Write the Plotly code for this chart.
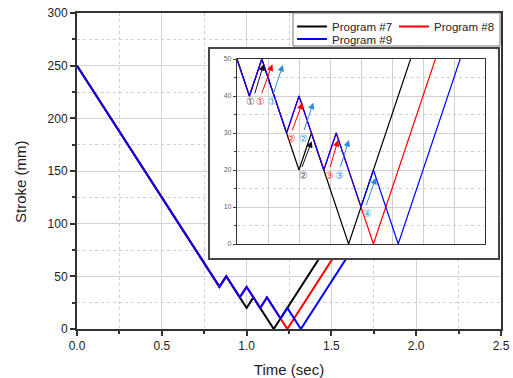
import plotly.graph_objects as go

# ---------------- data ----------------
series_names = ["Program #7", "Program #8", "Program #9"]
series_colors = ["#000000", "#ff0000", "#0000ff"]
series_legend = ["legend", "legend", "legend2"]

t7 = [0, 0.84, 0.88, 1.00, 1.04, 1.16, 1.56]
s7 = [250, 40, 50, 20, 30, 0, 100]
t8 = [0, 0.84, 0.88, 0.96, 1.00, 1.08, 1.12, 1.24, 1.64]
s8 = [250, 40, 50, 30, 40, 20, 30, 0, 100]
t9 = [0, 0.84, 0.88, 0.96, 1.00, 1.08, 1.12, 1.20, 1.24, 1.32, 1.72]
s9 = [250, 40, 50, 30, 40, 20, 30, 10, 20, 0, 100]

times = [t7, t8, t9]
strokes = [s7, s8, s9]

x_title = "Time (sec)"
y_title = "Stroke (mm)"

# circled step labels in the inset (text, time, stroke, series index)
label_text = ["①", "①", "①", "②", "②", "②", "③", "③", "④"]
label_t = [0.843, 0.877, 0.914, 0.977, 1.013, 1.013, 1.097, 1.132, 1.221]
label_s = [38.5, 38.5, 38.5, 28.6, 28.6, 18.6, 18.6, 18.6, 8.3]
label_series = [0, 1, 2, 1, 2, 0, 1, 2, 2]

# arrows in the inset: tail (t, s) -> head (t, s)
arrow_tail_t = [0.856, 0.878, 0.916, 0.977, 1.015, 1.008, 1.099, 1.132, 1.215]
arrow_tail_s = [40.3, 40.3, 40.3, 30.4, 30.4, 20.4, 20.4, 20.4, 10.1]
arrow_head_t = [0.886, 0.914, 0.948, 1.011, 1.046, 1.041, 1.126, 1.161, 1.248]
arrow_head_s = [48.6, 48.6, 48.4, 38.2, 38.2, 27.8, 28.1, 28.1, 17.9]
arrow_series = [0, 1, 2, 1, 2, 0, 1, 2, 2]

label_colors = ["#555555", "#ff3030", "#3399dd"]
arrow_colors = ["#111111", "#ff0000", "#2b8cd6"]

FONT = "Arial, Liberation Sans, sans-serif"

fig = go.Figure()

# main traces
for name, col, t, s, lg in zip(series_names, series_colors, times, strokes, series_legend):
    fig.add_trace(go.Scatter(x=t, y=s, mode="lines", name=name, legend=lg,
                             line=dict(color=col, width=2),
                             xaxis="x", yaxis="y", hoverinfo="skip"))

# dummy trace for the inset frame subplot
fig.add_trace(go.Scatter(x=[], y=[], xaxis="x2", yaxis="y2", showlegend=False,
                         hoverinfo="skip"))

# inset traces
for name, col, t, s in zip(series_names, series_colors, times, strokes):
    fig.add_trace(go.Scatter(x=t, y=s, mode="lines", name=name, showlegend=False,
                             line=dict(color=col, width=1.2),
                             xaxis="x3", yaxis="y3", hoverinfo="skip"))

L, R, T, B = 77, 12, 13, 49
W, H = 513, 378
pw, ph = W - L - R, H - T - B


def dx(px):
    return (px - L) / pw


def dy(py):
    return (H - B - py) / ph


axis_common = dict(showline=True, mirror=True, linecolor="#333333", linewidth=2,
                   ticks="outside", ticklen=5, tickwidth=1.5, tickcolor="#333333",
                   zeroline=False, showgrid=True, gridcolor="#d4d4d4", gridwidth=1,
                   tickfont=dict(family=FONT, size=12, color="#222222"))

legend_common = dict(orientation="h", xanchor="left", yanchor="top",
                     bgcolor="rgba(0,0,0,0)", borderwidth=0,
                     entrywidth=57, entrywidthmode="pixels",
                     font=dict(family=FONT, size=11.5, color="#222222"), itemwidth=30)

fig.update_layout(
    width=W, height=H,
    margin=dict(l=L, r=R, t=T, b=B, autoexpand=False),
    paper_bgcolor="white", plot_bgcolor="white",
    font=dict(family=FONT, color="#222222"),
    xaxis=dict(range=[0, 2.5], dtick=0.5, tick0=0, tickformat=".1f",
               title=dict(text=x_title, font=dict(size=15, family=FONT)),
               minor=dict(dtick=0.25, ticks="outside", ticklen=3, tickcolor="#333333",
                          showgrid=True, griddash="dot", gridcolor="#d0d0d0"),
               **axis_common),
    yaxis=dict(range=[0, 300], dtick=50, tick0=0,
               minor=dict(dtick=25, ticks="outside", ticklen=3, tickcolor="#333333",
                          showgrid=True, griddash="dot", gridcolor="#d0d0d0"),
               **axis_common),
    xaxis2=dict(domain=[dx(210), dx(498)], anchor="y2", range=[0, 1],
                showline=True, mirror=True, linecolor="#444444", linewidth=1.5,
                showgrid=False, zeroline=False, showticklabels=False, ticks=""),
    yaxis2=dict(domain=[dy(258), dy(49)], anchor="x2", range=[0, 1],
                showline=True, mirror=True, linecolor="#444444", linewidth=1.5,
                showgrid=False, zeroline=False, showticklabels=False, ticks=""),
    xaxis3=dict(domain=[dx(237), dx(485)], anchor="y3", range=[0.8, 1.6], dtick=0.1,
                tick0=0.8, showline=True, mirror=True, linecolor="#333333", linewidth=1.2,
                showgrid=True, gridcolor="#cfcfcf", gridwidth=1, zeroline=False,
                showticklabels=False, ticks=""),
    yaxis3=dict(domain=[dy(244), dy(59)], anchor="x3", range=[0, 50], dtick=10, tick0=0,
                showline=True, mirror=True, linecolor="#333333", linewidth=1.2,
                showgrid=True, gridcolor="#cfcfcf", gridwidth=1, zeroline=False,
                ticks="outside", ticklen=3, tickwidth=1, tickcolor="#444444",
                tickfont=dict(family=FONT, size=7, color="#666666"),
                minor=dict(dtick=5, ticks="outside", ticklen=2, tickcolor="#444444",
                           showgrid=True, griddash="dot", gridcolor="#d0d0d0")),
    legend=dict(x=dx(292), y=dy(12), **legend_common),
    legend2=dict(x=dx(292), y=dy(24.5), **legend_common),
    showlegend=True,
    shapes=[dict(type="rect", xref="paper", yref="paper",
                 x0=dx(293), x1=dx(500), y0=dy(46), y1=dy(13),
                 fillcolor="white", line=dict(color="#777777", width=1), layer="above")],
)

annotations = [dict(x=dx(20), y=dy(182), xref="paper", yref="paper", text=y_title,
                    textangle=-90, showarrow=False, xanchor="center", yanchor="middle",
                    font=dict(family=FONT, size=15, color="#222222"))]
for ht, hs, tt, ts, si in zip(arrow_head_t, arrow_head_s, arrow_tail_t, arrow_tail_s, arrow_series):
    annotations.append(dict(x=ht, y=hs, ax=tt, ay=ts, xref="x3", yref="y3",
                            axref="x3", ayref="y3", text="", showarrow=True,
                            arrowhead=2, arrowsize=1.3, arrowwidth=1,
                            arrowcolor=arrow_colors[si], standoff=0, startstandoff=0))
for txt, lt, ls, si in zip(label_text, label_t, label_s, label_series):
    annotations.append(dict(x=lt, y=ls, xref="x3", yref="y3", text=txt, showarrow=False,
                            font=dict(family="DejaVu Sans", size=10, color=label_colors[si]),
                            borderpad=0))
fig.update_layout(annotations=annotations)

fig.write_html("out.html")
